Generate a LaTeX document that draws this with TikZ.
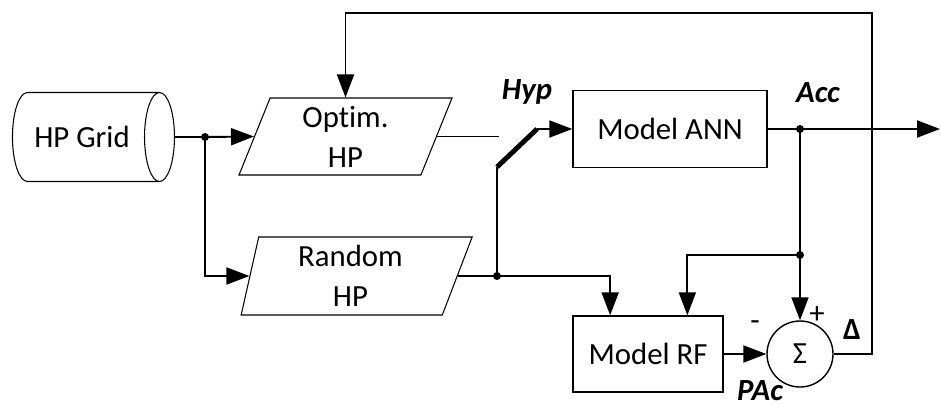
\documentclass[tikz,border=0pt]{standalone}
\usepackage{fontspec}
\setmainfont{Carlito}[Ligatures=NoCommon]
\usepackage{tikz}
\usetikzlibrary{arrows.meta,calc}
\usetikzlibrary{shapes.geometric}
\newcommand{\figfont}{\fontsize{17.5}{22.7}\selectfont}
\tikzstyle{block} = [draw, line width=0.8pt, minimum width=38.8mm, minimum height=15.4mm, align=center]
\tikzstyle{data} = [draw, line width=0.6pt, trapezium, trapezium stretches body, align=center, inner sep=0pt]
\tikzstyle{arr} = [-{Triangle[length=4.6mm,width=3.4mm]}, line width=1.1pt]
\tikzstyle{wire} = [line width=1.1pt]
\tikzstyle{lab} = [font=\figfont\bfseries\itshape, inner sep=1pt]

\begin{document}
\begin{tikzpicture}[x=0.2mm, y=-0.2mm, font=\figfont]
\useasboundingbox (0,0) rectangle (941,406);

	\node[draw, line width=0.6pt, cylinder, aspect=0.9, minimum width=17.8mm, minimum height=32.4mm] (grid) at (82,137) {HP Grid};
	\node[data, trapezium left angle=63, trapezium right angle=117, minimum width=42.6mm, minimum height=15.4mm] (optim) at (345.5,136.5) {Optim.\\HP};
	\node[data, trapezium left angle=74, trapezium right angle=116, minimum width=46.2mm, minimum height=15.6mm] (random) at (350.5,276) {Random\\HP};
	\node[block] (ann) at (670,129) {Model ANN};
	\node[block, minimum width=30mm, minimum height=15.2mm] (rf) at (648,354) {Model RF};
	\node[draw, circle, line width=0.8pt, minimum size=13.2mm, inner sep=0pt] (sum) at (800,354) {Σ};

	\coordinate (j1) at (205,137);
	\coordinate (swin) at (499,136.5);
	\coordinate (swb) at (497,167);
	\coordinate (swt) at (537,129);
	\coordinate (j2) at (497,276);
	\coordinate (j3) at (800,129);
	\coordinate (j4) at (800,255);
	\coordinate (out) at (940,129);
	\coordinate (fb) at (872,13);

	\draw[wire] (grid.east) -- (j1);
	\draw[arr] (j1) -- (optim.left side);
	\draw[arr] (j1) |- (random.left side);
	\draw[line width=0.6pt] (optim.right side) -- (swin);
	\draw[line width=2.8pt] (swb) -- (swt);
	\draw[arr] (swt) -- (ann.west);
	\draw[wire] (swb) -- (j2);
	\draw[wire] (random.right side) -- (j2);
	\draw[arr] (j2) -| ($(rf.north west)!0.25!(rf.north east)$);
	\draw[wire] (ann.east) -- (j3);
	\draw[arr] (j3) -- (out);
	\draw[wire] (j3) -- (j4);
	\draw[arr] (j4) -| ($(rf.north west)!0.76!(rf.north east)$);
	\draw[arr] (j4) -- (sum.north);
	\draw[arr] (rf.east) -- (sum.west);
	\draw[arr] (sum.east) -| (fb) -| (optim.north);

	\fill (j1) circle[radius=0.8mm];
	\fill (j2) circle[radius=0.8mm];
	\fill (j3) circle[radius=0.8mm];
	\fill (j4) circle[radius=0.8mm];

	\node[lab] (hyp) at (527,92) {Hyp};
	\node[lab] (acc) at (818,93) {Acc};
	\node[lab] (pac) at (760,391) {PAc};
	\node[font=\figfont\bfseries] (delta) at (852,330) {Δ};
	\node (minus) at (755,326) {-};
	\node (plus) at (817,315) {+};
\end{tikzpicture}
\end{document}
